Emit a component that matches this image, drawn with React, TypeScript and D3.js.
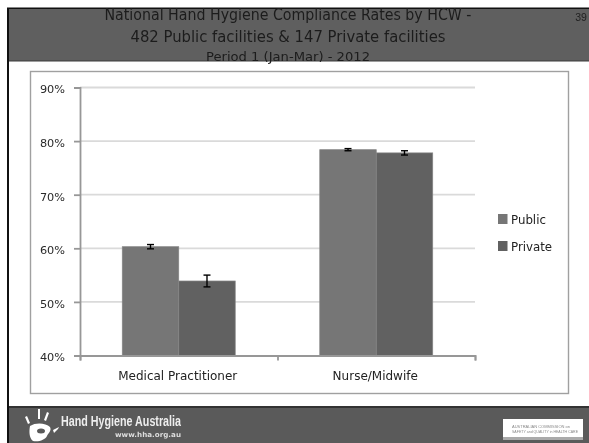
import React, { useRef, useEffect } from 'react';
import * as d3 from 'd3';

const categories = ['Medical Practitioner', 'Nurse/Midwife'];
const seriesNames = ['Public', 'Private'];
const publicValues = [60.3, 78.4];
const privateValues = [53.9, 77.8];
const publicErrors = [0.4, 0.2];
const privateErrors = [1.1, 0.4];
const yTicks = [40, 50, 60, 70, 80, 90];
const seriesColors = ['#767676', '#616161'];
const titleLines = [
	'National Hand Hygiene Compliance Rates by HCW -',
	'482 Public facilities & 147 Private facilities',
	'Period 1 (Jan-Mar) - 2012',
];

const App: React.FC = () => {
	const svgRef = useRef<SVGSVGElement | null>(null);

	useEffect(() => {
		const svg = d3.select(svgRef.current);
		svg.selectAll('*').remove();

		const font = '"DejaVu Sans", sans-serif';

		// slide frame
		svg.append('rect').attr('width', 589).attr('height', 443).attr('fill', '#fff');
		svg.append('rect').attr('x', 7).attr('y', 7.5).attr('width', 582).attr('height', 436).attr('fill', '#111');
		svg.append('rect').attr('x', 9).attr('y', 9).attr('width', 580).attr('height', 398).attr('fill', '#fff');
		svg.append('rect').attr('x', 9).attr('y', 9).attr('width', 580).attr('height', 52).attr('fill', '#5f5f5f');
		svg.append('rect').attr('x', 9).attr('y', 60.5).attr('width', 580).attr('height', 1).attr('fill', '#3c3c3c');
		svg.append('rect').attr('x', 9).attr('y', 406).attr('width', 580).attr('height', 2).attr('fill', '#333');
		svg.append('rect').attr('x', 9).attr('y', 408).attr('width', 580).attr('height', 35).attr('fill', '#5a5a5a');

		// title
		const titleY = [20, 42, 61];
		const titleSize = [16, 16, 13];
		const titleLen = [367, 315, 164];
		titleLines.forEach((t, i) => {
			svg.append('text')
				.attr('x', 288)
				.attr('y', titleY[i])
				.attr('text-anchor', 'middle')
				.attr('font-family', font)
				.attr('font-size', titleSize[i])
				.attr('fill', '#1c1c1c')
				.attr('textLength', titleLen[i])
				.attr('lengthAdjust', 'spacingAndGlyphs')
				.text(t);
		});
		svg.append('text')
			.attr('x', 581)
			.attr('y', 21)
			.attr('text-anchor', 'middle')
			.attr('font-family', '"Liberation Sans", sans-serif')
			.attr('font-size', 10.5)
			.attr('fill', '#222')
			.text('39');

		// chart box
		svg.append('rect')
			.attr('x', 30.5)
			.attr('y', 71.5)
			.attr('width', 538)
			.attr('height', 322)
			.attr('fill', '#fff')
			.attr('stroke', '#a0a0a0')
			.attr('stroke-width', 1.4);

		const xScale = d3
			.scaleBand<string>()
			.domain(categories)
			.range([80, 475])
			.paddingInner(0.428)
			.paddingOuter(0.214);
		const xSeries = d3
			.scaleBand<string>()
			.domain(seriesNames)
			.range([0, xScale.bandwidth()]);
		const yScale = d3.scaleLinear().domain([40, 90]).range([355.5, 87.5]);

		// gridlines
		svg.append('g')
			.selectAll('line')
			.data(yTicks.slice(1))
			.join('line')
			.attr('x1', 80)
			.attr('x2', 475)
			.attr('y1', (d) => yScale(d))
			.attr('y2', (d) => yScale(d))
			.attr('stroke', '#dadada')
			.attr('stroke-width', 1.8);

		// bars + error bars
		const series = [
			{ name: seriesNames[0], values: publicValues, errors: publicErrors, color: seriesColors[0] },
			{ name: seriesNames[1], values: privateValues, errors: privateErrors, color: seriesColors[1] },
		];
		series.forEach((s) => {
			const g = svg.append('g');
			categories.forEach((c, i) => {
				const x0 = (xScale(c) as number) + (xSeries(s.name) as number);
				const w = xSeries.bandwidth();
				const cx = x0 + w / 2;
				g.append('rect')
					.attr('x', x0)
					.attr('y', yScale(s.values[i]))
					.attr('width', w)
					.attr('height', yScale(40) - yScale(s.values[i]))
					.attr('fill', s.color)
					.attr('stroke', '#858585')
					.attr('stroke-width', 0.7);
				const top = yScale(s.values[i] + s.errors[i]);
				const bottom = yScale(s.values[i] - s.errors[i]);
				const eb = g.append('g').attr('stroke', '#000').attr('stroke-width', 1.4);
				eb.append('line').attr('x1', cx).attr('x2', cx).attr('y1', top).attr('y2', bottom);
				eb.append('line').attr('x1', cx - 3.5).attr('x2', cx + 3.5).attr('y1', top).attr('y2', top);
				eb.append('line').attr('x1', cx - 3.5).attr('x2', cx + 3.5).attr('y1', bottom).attr('y2', bottom);
			});
		});

		// axes
		const axisColor = '#979797';
		const yAxis = svg.append('g')
			.attr('transform', 'translate(80,0)')
			.call(d3.axisLeft(yScale).tickValues(yTicks).tickSize(6).tickFormat((d) => `${d}%`));
		const xAxis = svg.append('g')
			.attr('transform', 'translate(0,355.5)')
			.call(d3.axisBottom(d3.scalePoint<number>().domain([0, 1, 2]).range([80, 475])).tickSize(5).tickFormat(() => ''));
		[yAxis, xAxis].forEach((a) => {
			a.selectAll('path, line').attr('stroke', axisColor).attr('stroke-width', 1.8);
			a.select('.domain').attr('fill', 'none');
		});
		yAxis.selectAll('text')
			.attr('x', -15)
			.attr('dy', '0.48em')
			.attr('font-family', font)
			.attr('font-size', 11.3)
			.attr('fill', '#2a2a2a');

		categories.forEach((c) => {
			svg.append('text')
				.attr('x', (xScale(c) as number) + xScale.bandwidth() / 2 - 1)
				.attr('y', 380)
				.attr('text-anchor', 'middle')
				.attr('font-family', font)
				.attr('font-size', 12)
				.attr('fill', '#222')
				.text(c);
		});

		// legend
		const legendY = d3.scalePoint<string>().domain(seriesNames).range([219, 246]);
		seriesNames.forEach((n, i) => {
			const y = legendY(n) as number;
			svg.append('rect')
				.attr('x', 498)
				.attr('y', y - 5)
				.attr('width', 9.5)
				.attr('height', 10)
				.attr('fill', seriesColors[i]);
			svg.append('text')
				.attr('x', 511)
				.attr('y', y + 4.5)
				.attr('font-family', font)
				.attr('font-size', 11.8)
				.attr('fill', '#222')
				.text(n);
		});

		// footer logo
		const hand = svg.append('g').attr('fill', '#fff');
		hand.append('path').attr('d', 'M30 426 C36 422 46 423 50 427 C52 431 48 433 47 436 C45 440 39 442 33 441 C29 438 29 431 30 426 Z');
		hand.append('ellipse').attr('cx', 41).attr('cy', 431).attr('rx', 4).attr('ry', 2.5).attr('fill', '#5a5a5a');
		hand.append('path').attr('d', 'M25 417 L27 416 L30 423 L28 424 Z');
		hand.append('path').attr('d', 'M38 409 L40 409 L40 419 L38 419 Z');
		hand.append('path').attr('d', 'M47 412 L49 413 L46 421 L44 420 Z');
		hand.append('path').attr('d', 'M53 430 L59 427 L58 429 L54 433 Z');
		svg.append('text')
			.attr('x', 61)
			.attr('y', 426)
			.attr('font-family', '"Liberation Sans Narrow", "Liberation Sans", sans-serif')
			.attr('font-weight', 'bold')
			.attr('font-size', 14)
			.attr('fill', '#eee')
			.attr('textLength', 120)
			.attr('lengthAdjust', 'spacingAndGlyphs')
			.text('Hand Hygiene Australia');
		svg.append('text')
			.attr('x', 115)
			.attr('y', 437)
			.attr('font-family', font)
			.attr('font-weight', 'bold')
			.attr('font-size', 7)
			.attr('fill', '#ddd')
			.attr('textLength', 66)
			.attr('lengthAdjust', 'spacingAndGlyphs')
			.text('www.hha.org.au');

		svg.append('rect').attr('x', 503).attr('y', 419).attr('width', 80).attr('height', 21).attr('fill', '#fff');
		svg.append('rect').attr('x', 503).attr('y', 437).attr('width', 80).attr('height', 3).attr('fill', '#aaa');
		['AUSTRALIAN COMMISSION on', 'SAFETY and QUALITY in HEALTH CARE'].forEach((t, i) => {
			svg.append('text')
				.attr('x', 512)
				.attr('y', 427.5 + i * 5.5)
				.attr('font-family', '"Liberation Sans", sans-serif')
				.attr('font-size', 4.2)
				.attr('fill', '#888')
				.attr('textLength', i === 0 ? 58 : 66)
				.attr('lengthAdjust', 'spacingAndGlyphs')
				.text(t);
		});
	}, []);

	return (
		<svg
			ref={svgRef}
			width={589}
			height={443}
			style={{ position: 'absolute', left: 0, top: 0, filter: 'blur(0.45px)' }}
		/>
	);
};

export default App;
